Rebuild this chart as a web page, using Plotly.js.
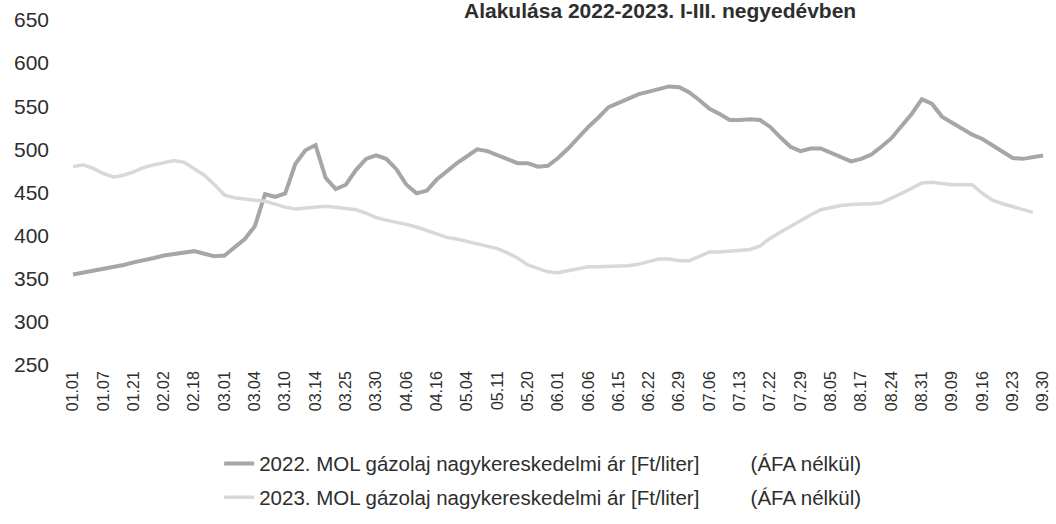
<!DOCTYPE html>
<html>
<head>
<meta charset="utf-8">
<script src="https://cdn.plot.ly/plotly-3.0.1.min.js"></script>
<style>
html, body { margin: 0; padding: 0; background: #ffffff; }
#chart { width: 1056px; height: 524px; }
</style>
</head>
<body>
<div id="chart"></div>
<script>
// Tick labels (category labels along the x axis)
const xLabels = ['01.01','01.07','01.21','02.02','02.18','03.01','03.04','03.10','03.14','03.25','03.30',
  '04.06','04.16','05.04','05.11','05.20','06.01','06.06','06.15','06.22','06.29','07.06','07.13',
  '07.22','07.29','08.05','08.17','08.24','08.31','09.09','09.16','09.23','09.30'];

// Points per label interval in the series below
const pointsPerLabel = 3;

// 2022. MOL gázolaj nagykereskedelmi ár [Ft/liter]
const price2022 = [355,357,360,362,364,366,369,371,374,377,379,381,382,379,376,377,387,396,411,448,
  445,449,483,499,505,467,454,459,476,489,493,489,477,459,449,452,465,475,484,492,
  500,498,493,488,484,484,480,481,490,501,514,526,537,549,554,559,564,567,570,573,
  572,566,557,547,541,534,534,535,534,526,514,503,498,501,501,496,491,486,489,494,
  503,513,527,541,558,553,538,531,525,517,512,505,498,490,489,491,493];

// 2023. MOL gázolaj nagykereskedelmi ár [Ft/liter]
const price2023 = [480,482,478,472,468,470,474,479,482,485,487,485,478,470,459,447,444,442,441,440,
  436,433,431,432,434,434,433,431,430,426,421,418,416,413,410,406,402,398,396,393,
  391,388,385,380,374,366,362,358,357,359,362,364,364,364,364,365,367,370,373,373,
  371,371,376,381,381,382,383,384,388,397,404,411,418,424,430,433,435,436,437,437,
  438,443,449,455,461,462,460,459,459,459,449,441,437,434,431,427];

const yTicks = [250,300,350,400,450,500,550,600,650];

const seriesNames = [
  '2022. MOL gázolaj nagykereskedelmi ár [Ft/liter]',
  '2023. MOL gázolaj nagykereskedelmi ár [Ft/liter]'
];
const vatNote = '(ÁFA nélkül)';
const titleText = 'Alakulása 2022-2023. I-III. negyedévben';

const gap = '\u00a0'.repeat(9);
const toX = arr => arr.map((_, i) => i / pointsPerLabel);
const FONT = 'Liberation Sans, Arial, sans-serif';

const traces = [
  {
    type: 'scatter', mode: 'lines',
    x: toX(price2022), y: price2022,
    name: seriesNames[0] + gap + vatNote,
    legendgroup: 'a',
    line: { color: '#a6a6a6', width: 4 },
    hoverinfo: 'skip'
  },
  {
    type: 'scatter', mode: 'lines',
    x: toX(price2023), y: price2023,
    name: seriesNames[1] + gap + vatNote,
    legendgroup: 'b',
    line: { color: '#d8d8d8', width: 3.5 },
    hoverinfo: 'skip'
  }
];

const layout = {
  width: 1056, height: 524,
  margin: { l: 55, r: 6, t: 20, b: 154, pad: 0 },
  paper_bgcolor: '#ffffff', plot_bgcolor: '#ffffff',
  font: { family: FONT, color: '#2e2e2e' },
  showlegend: true,
  legend: {
    orientation: 'v', traceorder: 'grouped', tracegroupgap: 4,
    x: 0.165, xanchor: 'left', y: -0.228, yanchor: 'top',
    font: { family: FONT, size: 20.5, color: '#2e2e2e' },
    bgcolor: 'rgba(0,0,0,0)'
  },
  xaxis: {
    range: [-0.594, 32.23],
    tickmode: 'array',
    tickvals: xLabels.map((_, i) => i),
    ticktext: xLabels,
    tickangle: -90,
    ticklabelstandoff: 2,
    showgrid: false, zeroline: false, showline: false, ticks: '',
    tickfont: { family: FONT, size: 16, color: '#2e2e2e' },
    fixedrange: true
  },
  yaxis: {
    range: [250, 650],
    tickmode: 'array', tickvals: yTicks, ticktext: yTicks.map(String),
    ticklabelstandoff: 5,
    showgrid: false, zeroline: false, showline: false, ticks: '',
    tickfont: { family: FONT, size: 21, color: '#2e2e2e' },
    fixedrange: true
  },
  annotations: [
    {
      xref: 'paper', yref: 'paper', x: (462 - 55) / 995, y: 1, xanchor: 'left', yanchor: 'bottom',
      yshift: -4, showarrow: false, text: titleText,
      font: { family: FONT, size: 21, color: '#2e2e2e', weight: 700 }
    }
  ]
};

Plotly.newPlot('chart', traces, layout, { staticPlot: true, displayModeBar: false });
</script>
</body>
</html>
